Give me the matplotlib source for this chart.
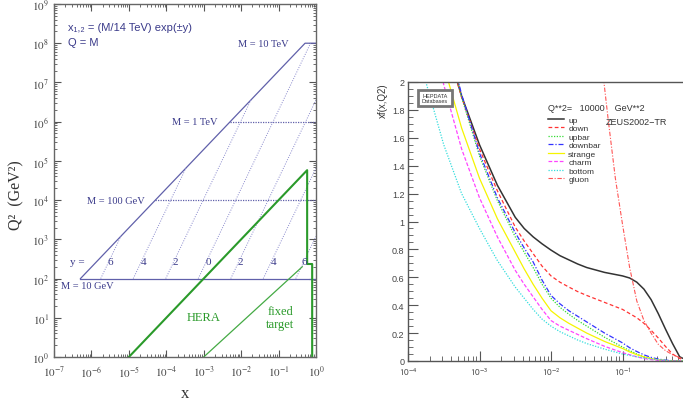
import numpy as np
import matplotlib
matplotlib.use('Agg')
import matplotlib.pyplot as plt
from matplotlib.patches import Rectangle
from matplotlib.ticker import LogLocator, FuncFormatter, NullFormatter, MultipleLocator

plt.rcParams['mathtext.fontset'] = 'stix'

# ---------------- left panel: LHC kinematic plane ----------------
# boundary x = Q^2 / s, M from 10 GeV to 10 TeV, then flat at M = 10 TeV
bound_x = [5.1e-7, 0.51, 1.0]
bound_q2 = [1e2, 1e8, 1e8]

mass_labels = ['M = 10 GeV', 'M = 100 GeV', 'M = 1 TeV', 'M = 10 TeV']
mass_q2 = [1e2, 1e4, 1e6, 1e8]
mass_xstart = [5.1e-7, 5.1e-5, 5.1e-3, 0.51]

# lines of constant rapidity (left side: exp(-y), right side: exp(+y))
rap_labels = ['6', '4', '2', '0', '2', '4', '6']
rap_x0 = [1.77e-6, 1.31e-5, 9.67e-5, 7.14e-4, 5.28e-3, 3.9e-2, 0.288]
rap_x1 = [6.14e-6, 3.35e-4, 1.83e-2, 0.714, 1.0, 1.0, 1.0]
rap_q1 = [1.2e3, 6.57e4, 3.59e6, 1e8, 3.59e6, 6.57e4, 1.2e3]

# HERA and fixed target regions
hera_x = [1e-5, 0.58, 0.58, 0.79, 0.79]
hera_q2 = [1.0, 5.8e4, 2.35e2, 2.35e2, 1.0]
fixed_x = [1e-3, 0.43]
fixed_q2 = [1.0, 2.0e2]

# ---------------- right panel: ZEUS2002 pdfs at Q^2 = 10^4 ----------------
logx = [-4.0, -3.75, -3.5, -3.25, -3.0, -2.75, -2.5, -2.375, -2.25, -2.125, -2.0, -1.875, -1.75,
        -1.625, -1.5, -1.25, -1.0, -0.9, -0.8, -0.7, -0.6, -0.5, -0.4, -0.3, -0.2, -0.1, 0.0]
xf_up = [3.40, 2.80, 2.32, 1.90, 1.55, 1.26, 1.03, 0.95, 0.89, 0.84, 0.795, 0.755, 0.725,
         0.695, 0.67, 0.635, 0.61, 0.595, 0.565, 0.515, 0.44, 0.34, 0.23, 0.125, 0.03, 0.005, 0.0]
xf_down = [3.50, 2.85, 2.33, 1.89, 1.52, 1.22, 0.96, 0.86, 0.77, 0.68, 0.61, 0.565, 0.53,
           0.497, 0.47, 0.42, 0.37, 0.34, 0.31, 0.27, 0.22, 0.165, 0.105, 0.05, 0.018, 0.004, 0.0]
xf_upbar = [3.92, 3.07, 2.41, 1.89, 1.47, 1.15, 0.89, 0.78, 0.67, 0.55, 0.45, 0.385, 0.335,
            0.29, 0.25, 0.17, 0.10, 0.075, 0.05, 0.03, 0.018, 0.01, 0.004, 0.001, 0.0, 0.0, 0.0]
xf_downbar = [3.93, 3.09, 2.43, 1.91, 1.49, 1.17, 0.92, 0.81, 0.71, 0.58, 0.47, 0.41, 0.36,
              0.32, 0.28, 0.20, 0.13, 0.095, 0.068, 0.044, 0.026, 0.014, 0.006, 0.002, 0.0, 0.0, 0.0]
xf_strange = [3.43, 2.70, 2.12, 1.67, 1.31, 1.02, 0.78, 0.66, 0.55, 0.45, 0.36, 0.31, 0.27,
              0.235, 0.20, 0.14, 0.09, 0.065, 0.045, 0.03, 0.017, 0.008, 0.003, 0.001, 0.0, 0.0, 0.0]
xf_charm = [3.35, 2.58, 1.98, 1.52, 1.17, 0.89, 0.65, 0.55, 0.46, 0.37, 0.29, 0.25, 0.22,
            0.19, 0.16, 0.105, 0.06, 0.045, 0.03, 0.018, 0.01, 0.005, 0.002, 0.0, 0.0, 0.0, 0.0]
xf_bottom = [2.58, 2.0, 1.55, 1.20, 0.95, 0.72, 0.53, 0.45, 0.37, 0.30, 0.25, 0.21, 0.18,
             0.15, 0.125, 0.085, 0.05, 0.04, 0.03, 0.022, 0.015, 0.009, 0.004, 0.001, 0.0, 0.0, 0.0]
logx_gluon = [-1.35, -1.26, -1.2, -1.1, -1.0, -0.9, -0.8, -0.7, -0.6, -0.5, -0.4, -0.3, -0.2, -0.1, 0.0]
xf_gluon = [2.6, 2.0, 1.73, 1.31, 0.98, 0.67, 0.43, 0.29, 0.2, 0.12, 0.075, 0.045, 0.025, 0.01, 0.0]

pdf_names = ['up', 'down', 'upbar', 'downbar', 'strange', 'charm', 'bottom', 'gluon']
pdf_colors = ['#333333', '#ff3333', '#33dd33', '#3333ff', '#f5f500', '#ff44ff', '#33dddd', '#ff5555']
pdf_dashes = [None, (3, 2), (1, 1.2), (4, 1.5, 1, 1.5), None, (3, 1.5), (1, 1.2), (4, 1.5, 1, 1.5)]

purple = '#6060aa'
text_purple = '#3a3a8a'
green = '#2a9a2a'

fig = plt.figure(figsize=(6.83, 4.06), dpi=100)

# ---- left axes ----
ax = fig.add_axes([54/683, 48/406, 262/683, 353/406])
ax.plot(bound_x, bound_q2, color=purple, lw=0.9)
ax.plot([mass_xstart[0], 1.0], [mass_q2[0]] * 2, color=purple, lw=0.9)
for xs, q in zip(mass_xstart[1:3], mass_q2[1:3]):
    ax.plot([xs, 1.0], [q, q], color=purple, lw=0.9, ls=(0, (1, 1)))
for x0, x1, q1 in zip(rap_x0, rap_x1, rap_q1):
    ax.plot([x0, x1], [1e2, q1], color='#8888cc', lw=0.7, ls=(0, (1, 1.5)))

ax.plot(hera_x, hera_q2, color=green, lw=1.5)
ax.plot(fixed_x, fixed_q2, color='#44aa44', lw=0.9)

serif = 'Liberation Serif'
ax.text(1.55e-7, 0.85e2, mass_labels[0], family=serif, fontsize=7.5, color=text_purple, ha='left', va='top')
ax.text(2.7e-5, 1e4, mass_labels[1], family=serif, fontsize=7.5, color=text_purple, ha='right', va='center')
ax.text(2.3e-3, 1e6, mass_labels[2], family=serif, fontsize=7.5, color=text_purple, ha='right', va='center')
ax.text(0.19, 1e8, mass_labels[3], family=serif, fontsize=7.5, color=text_purple, ha='right', va='center')

ax.text(2.7e-7, 2.8e2, 'y =', family=serif, fontsize=8, color=text_purple, ha='left', va='center')
lab_x = [3.14e-6, 2.4e-5, 1.72e-4, 1.32e-3, 9.4e-3, 7.2e-2, 0.48]
for lx, lab in zip(lab_x, rap_labels):
    ax.text(lx, 2.8e2, lab, family=serif, fontsize=8, color=text_purple, ha='center', va='center')

ax.text(1.0e-3, 10.5, 'HERA', family=serif, fontsize=9, color=green, ha='center', va='center')
ax.text(0.11, 10.0, 'fixed\ntarget', family=serif, fontsize=9, color=green, ha='center', va='center',
        linespacing=1.1)

ax.text(0.055, 0.935, 'x\u2081,\u2082 = (M/14 TeV) exp(\u00b1y)', transform=ax.transAxes,
        family=['Liberation Sans', 'DejaVu Sans'], fontsize=8, color=text_purple, va='center')
ax.text(0.055, 0.892, 'Q = M', transform=ax.transAxes, family='Liberation Sans', fontsize=8,
        color=text_purple, va='center')

ax.set_xscale('log')
ax.set_yscale('log')
ax.set_xlim(1e-7, 1)
ax.set_ylim(1, 1e9)
ax.xaxis.set_major_locator(LogLocator(base=10, numticks=20))
ax.yaxis.set_major_locator(LogLocator(base=10, numticks=20))
ax.xaxis.set_minor_locator(LogLocator(base=10, subs=np.arange(2, 10), numticks=20))
ax.yaxis.set_minor_locator(LogLocator(base=10, subs=np.arange(2, 10), numticks=20))
ax.xaxis.set_minor_formatter(NullFormatter())
ax.yaxis.set_minor_formatter(NullFormatter())
fmt = FuncFormatter(lambda v, p: '$10^{%d}$' % round(np.log10(v)))
ax.xaxis.set_major_formatter(fmt)
ax.yaxis.set_major_formatter(fmt)
ax.tick_params(which='both', direction='in', top=True, right=True, colors='#555555',
               labelcolor='#444444', labelsize=8)
ax.tick_params(which='major', length=5, width=0.8)
ax.tick_params(which='minor', length=2.5, width=0.6)
ax.tick_params(axis='x', pad=5)
for s in ax.spines.values():
    s.set_color('#666666')
    s.set_linewidth(1.0)
ax.set_xlabel('x', family=serif, fontsize=12, color='#333333')
ax.xaxis.set_label_coords(0.5, -0.078)
ax.set_ylabel('Q\u00b2  (GeV\u00b2)', family=serif, fontsize=11.5, color='#333333')
ax.yaxis.set_label_coords(-0.112, 0.46)

# ---- right axes ----
bx = fig.add_axes([408/683, 44/406, 286/683, 279/406])
xq = 10 ** np.array(logx)
series = [xf_up, xf_down, xf_upbar, xf_downbar, xf_strange, xf_charm, xf_bottom]
for name, vals, c, d in zip(pdf_names[:7], series, pdf_colors, pdf_dashes):
    ln, = bx.plot(xq, vals, color=c, lw=1.1 if name == 'up' else 0.9, label=name)
    if d is not None:
        ln.set_dashes(d)
ln, = bx.plot(10 ** np.array(logx_gluon), xf_gluon, color=pdf_colors[7], lw=0.8, label='gluon')
ln.set_dashes(pdf_dashes[7])

bx.set_xscale('log')
bx.set_xlim(1e-4, 1)
bx.set_ylim(0, 2)
bx.spines['right'].set_visible(False)
for s in ['left', 'bottom', 'top']:
    bx.spines[s].set_color('#555555')
    bx.spines[s].set_linewidth(1.0)
bx.xaxis.set_major_locator(LogLocator(base=10, numticks=10))
bx.xaxis.set_minor_locator(LogLocator(base=10, subs=np.arange(2, 10), numticks=10))
bx.xaxis.set_minor_formatter(NullFormatter())
bx.xaxis.set_major_formatter(FuncFormatter(lambda v, p: '$\\mathsf{10}^{\\mathsf{%d}}$' % round(np.log10(v))))
bx.yaxis.set_major_locator(MultipleLocator(0.2))
bx.yaxis.set_minor_locator(MultipleLocator(0.05))
bx.yaxis.set_major_formatter(FuncFormatter(lambda v, p: ('%.1f' % v).rstrip('0').rstrip('.') if v else '0'))
bx.tick_params(which='both', direction='in', colors='#555555', labelcolor='#444444', labelsize=6.5)
bx.tick_params(which='major', length=7, width=0.8)
bx.tick_params(which='minor', length=3.5, width=0.6)
for lbl in bx.get_yticklabels():
    lbl.set_family('Liberation Sans')
bx.tick_params(axis='y', pad=2.5)
bx.tick_params(axis='x', pad=3)

bx.text(-0.088, 1.0, 'xf(x,Q2)', transform=bx.transAxes, rotation=90, ha='center', va='top',
        family='Liberation Sans', fontsize=7, color='#333333')
bx.text(0.49, 0.91, 'Q**2=   10000    GeV**2', transform=bx.transAxes, family='Liberation Sans',
        fontsize=6.5, color='#333333', va='center')
bx.text(0.69, 0.86, 'ZEUS2002\u2212TR', transform=bx.transAxes, family='Liberation Sans',
        fontsize=6.5, color='#333333', va='center')
leg = bx.legend(loc='upper left', bbox_to_anchor=(0.49, 0.878), frameon=False, prop={'family': 'Liberation Sans', 'size': 6},
                handlelength=1.9, handletextpad=0.5, labelspacing=0.08, borderaxespad=0, borderpad=0)
for t in leg.get_texts():
    t.set_color('#333333')

# HEPDATA logo
bx.add_patch(Rectangle((0.035, 0.914), 0.119, 0.057, transform=bx.transAxes, facecolor='white',
                       edgecolor='#777777', lw=2.0, clip_on=False, zorder=5))
bx.text(0.0945, 0.9425, 'HEPDATA\nDatabases', transform=bx.transAxes, ha='center', va='center',
        fontsize=4, family='Liberation Sans', color='#333333', linespacing=0.9, zorder=6)

fig.savefig('out.png', dpi=100)
